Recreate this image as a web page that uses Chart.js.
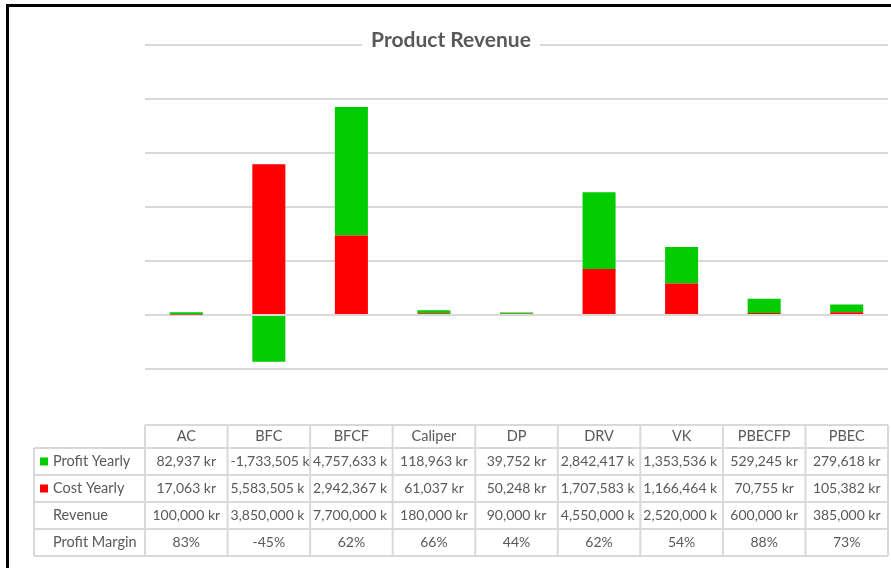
<!DOCTYPE html>
<html>
<head>
<meta charset="utf-8">
<script src="https://cdn.jsdelivr.net/npm/chart.js@4"></script>
<style>
    html, body { margin: 0; padding: 0; background: #fff; }
    #wrap { position: relative; width: 891px; height: 568px; }
    #frame { position: absolute; left: 6px; top: 4px; right: 0; bottom: 0; border-left: 3px solid #000; border-top: 3px solid #000; pointer-events: none; }
</style>
</head>
<body>
<div id="wrap">
    <canvas id="revenueChart"></canvas>
    <div id="frame"></div>
</div>
<script>
const categories = ['AC', 'BFC', 'BFCF', 'Caliper', 'DP', 'DRV', 'VK', 'PBECFP', 'PBEC'];
const profitYearly = [82937, -1733505, 4757633, 118963, 39752, 2842417, 1353536, 529245, 279618];
const costYearly = [17063, 5583505, 2942367, 61037, 50248, 1707583, 1166464, 70755, 105382];
const revenue = [100000, 3850000, 7700000, 180000, 90000, 4550000, 2520000, 600000, 385000];
const profitMargin = [83, -45, 62, 66, 44, 62, 54, 88, 73];
const yMin = -4000000;
const yMax = 10000000;
const yStep = 2000000;

const textColor = '#595959';
const lineColor = '#d9d9d9';
const fontFamily = 'Lato, "Liberation Sans", sans-serif';

function kr(v) {
    return v.toLocaleString('en-US') + ' kr';
}

const tableRows = [
    { label: 'Profit Yearly', color: '#00cc00', values: profitYearly.map(kr) },
    { label: 'Cost Yearly', color: '#ff0000', values: costYearly.map(kr) },
    { label: 'Revenue', color: null, values: revenue.map(kr) },
    { label: 'Profit Margin', color: null, values: profitMargin.map(function (v) { return v + '%'; }) }
];

// draws the title over the top gridline and the data table under the x axis
const tablePlugin = {
    id: 'dataTable',
    afterDraw: function (chart) {
        const ctx = chart.ctx;
        const area = chart.chartArea;
        const x = chart.scales.x;
        const half = (x.getPixelForValue(1) - x.getPixelForValue(0)) / 2;
        const legendLeft = 34;
        const top = area.bottom + 2;
        const headerH = 23;
        const rowH = 27;

        ctx.save();

        // title
        ctx.font = 'bold 21px ' + fontFamily;
        const title = 'Product Revenue';
        const tw = ctx.measureText(title).width;
        const tx = 451;
        ctx.fillStyle = '#fff';
        ctx.fillRect(tx - tw / 2 - 9, 28, tw + 18, 30);
        ctx.fillStyle = textColor;
        ctx.textAlign = 'center';
        ctx.textBaseline = 'middle';
        ctx.fillText(title, tx, 40);

        // grid of the table
        ctx.strokeStyle = lineColor;
        ctx.lineWidth = 2;
        const bottom = top + headerH + rowH * tableRows.length;
        ctx.beginPath();
        ctx.moveTo(area.left, top);
        ctx.lineTo(area.right, top);
        for (let r = 0; r <= tableRows.length; r++) {
            const y = top + headerH + rowH * r;
            ctx.moveTo(legendLeft, y);
            ctx.lineTo(area.right, y);
        }
        for (let i = 0; i < categories.length; i++) {
            const bx = x.getPixelForValue(i) - half;
            ctx.moveTo(bx, top);
            ctx.lineTo(bx, bottom);
        }
        ctx.moveTo(area.right, top);
        ctx.lineTo(area.right, bottom);
        ctx.moveTo(legendLeft, top + headerH);
        ctx.lineTo(legendLeft, bottom);
        ctx.stroke();

        // rows
        ctx.textBaseline = 'middle';
        tableRows.forEach(function (row, r) {
            const cy = top + headerH + rowH * r + rowH / 2;
            if (row.color) {
                ctx.fillStyle = row.color;
                ctx.fillRect(40, cy - 4, 8, 8);
            }
            ctx.fillStyle = textColor;
            ctx.font = '14.5px ' + fontFamily;
            ctx.textAlign = 'left';
            ctx.fillText(row.label, 53, cy);

            ctx.font = '14px ' + fontFamily;
            row.values.forEach(function (txt, i) {
                const cx = x.getPixelForValue(i);
                if (ctx.measureText(txt).width > half * 2 - 7) {
                    // too wide for the cell: cut off the tail, left aligned
                    let s = txt.slice(0, -1);
                    while (s.length > 1 && ctx.measureText(s).width > half * 2 - 3) {
                        s = s.slice(0, -1);
                    }
                    ctx.textAlign = 'left';
                    ctx.fillText(s, cx - half + 3, cy);
                } else {
                    ctx.textAlign = 'center';
                    ctx.fillText(txt, cx, cy);
                }
            });
        });

        ctx.restore();
    }
};

new Chart(document.getElementById('revenueChart'), {
    type: 'bar',
    data: {
        labels: categories,
        datasets: [{
            label: 'Cost Yearly',
            data: costYearly,
            backgroundColor: '#ff0000',
            stack: 'total'
        }, {
            label: 'Profit Yearly',
            data: profitYearly,
            backgroundColor: '#00cc00',
            stack: 'total'
        }]
    },
    options: {
        responsive: true,
        maintainAspectRatio: false,
        animation: false,
        layout: {
            padding: { left: 145, right: 3, top: 45, bottom: 0 }
        },
        datasets: {
            bar: {
                categoryPercentage: 1,
                barPercentage: 0.4
            }
        },
        plugins: {
            legend: { display: false },
            tooltip: { enabled: false }
        },
        scales: {
            x: {
                stacked: true,
                grid: { display: false, drawTicks: false },
                border: { display: false },
                ticks: {
                    autoSkip: false,
                    maxRotation: 0,
                    minRotation: 0,
                    padding: 5,
                    color: textColor,
                    font: { family: fontFamily, size: 14.5 }
                },
                afterFit: function (scale) {
                    scale.height = 145;
                }
            },
            y: {
                stacked: true,
                min: yMin,
                max: yMax,
                ticks: { display: false, stepSize: yStep },
                grid: {
                    drawTicks: false,
                    lineWidth: 2,
                    color: function (c) {
                        return c.tick && c.tick.value === yMin ? 'rgba(0,0,0,0)' : lineColor;
                    }
                },
                border: { display: false },
                afterFit: function (scale) {
                    scale.width = 0;
                }
            }
        }
    },
    plugins: [tablePlugin]
});
</script>
</body>
</html>
